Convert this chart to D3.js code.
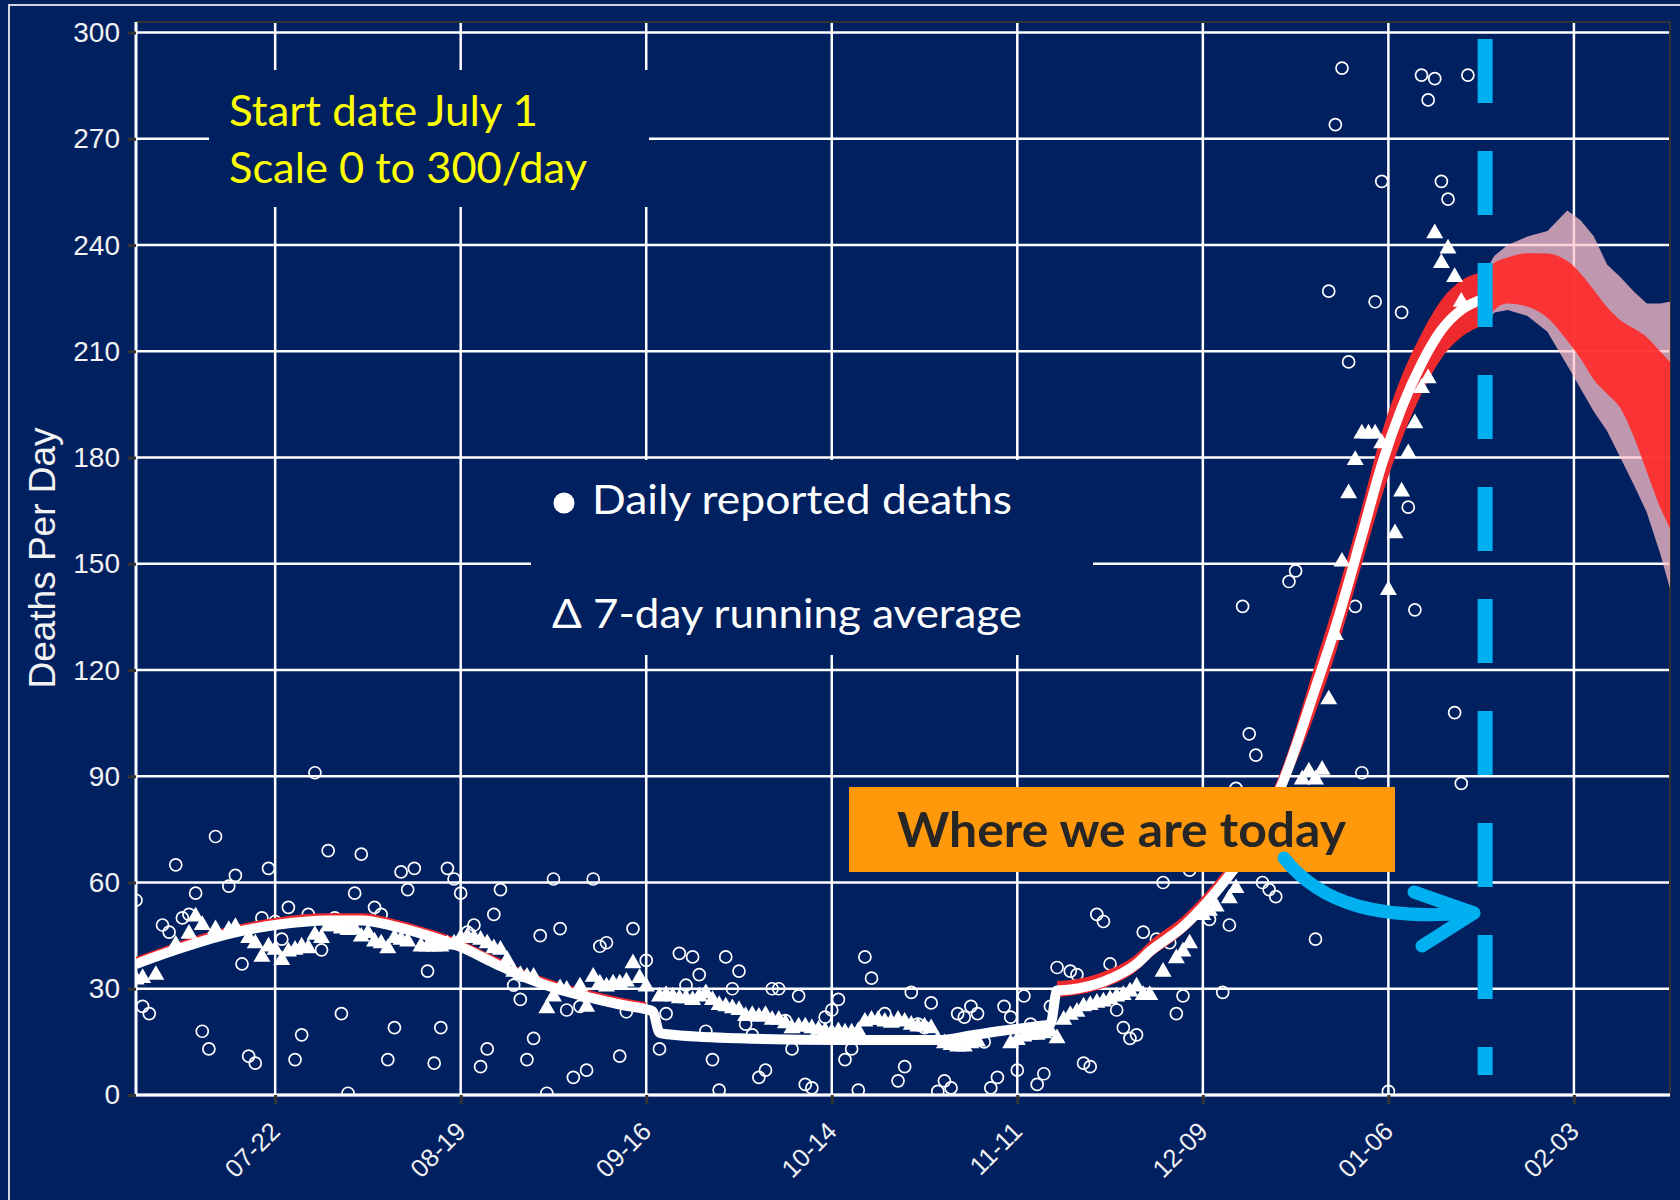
<!DOCTYPE html>
<html>
<head>
<meta charset="utf-8">
<script src="https://cdnjs.cloudflare.com/ajax/libs/d3/7.8.5/d3.min.js"></script>
<style>
  body { margin: 0; background: #002060; }
  svg { display: block; }
</style>
</head>
<body>
<script>
// Chart size
var svg_width = 1680;
var svg_height = 1200;

// Days are counted from July 1 2020
var startDate = Date.UTC(2020, 6, 1);
var endDay = 231.5;
var todayDay = 203.6;

// Axis ticks
var tickDates = ["2020-07-22", "2020-08-19", "2020-09-16", "2020-10-14", "2020-11-11", "2020-12-09", "2021-01-06", "2021-02-03"];
var yTicks = [0, 30, 60, 90, 120, 150, 180, 210, 240, 270, 300];

// Daily reported deaths (open circles)
var dailyDays = [0, 1, 2, 4, 5, 6, 7, 8, 9, 10, 11, 12, 14, 15, 16, 17, 18, 19, 20, 21, 22, 23, 24, 25, 26, 27, 28, 29, 30, 31,
  32, 33, 34, 36, 37, 38, 39, 40, 41, 42, 44, 45, 46, 47, 48, 49, 50, 51, 52, 53, 54, 55, 57, 58, 59, 60, 61, 62, 63, 64,
  65, 66, 67, 68, 69, 70, 71, 73, 74, 75, 77, 79, 80, 82, 83, 84, 85, 86, 87, 88, 89, 90, 91, 92, 93, 94, 95, 96, 97, 98,
  99, 100, 101, 102, 103, 104, 105, 106, 107, 108, 109, 110, 111, 113, 115, 116, 117, 118, 119, 120, 121, 122, 123, 124, 125, 126, 127, 128, 129, 130,
  131, 132, 133, 134, 135, 136, 137, 138, 139, 141, 142, 143, 144, 145, 146, 147, 148, 149, 150, 151, 152, 154, 155, 156,
  157, 158, 159, 162, 164, 165, 166, 167, 168, 169, 170, 171, 172, 174, 175, 178, 180, 181, 182, 183, 184, 185, 187, 188,
  189, 191, 192, 193, 194, 195, 196, 197, 198, 199, 200, 201];
var dailyDeaths = [55, 25, 23, 48, 46, 65, 50, 51, 57, 18, 13, 73, 59, 62, 37, 11, 9, 50, 64, 49, 44, 53, 10, 17, 51, 91, 41, 69, 50, 23,
  0.5, 57, 68, 53, 51, 10, 19, 63, 58, 64, 35, 9, 19, 64, 61, 57, 46, 48, 8, 13, 51, 58, 31, 27, 10, 16, 45, 0.5, 61, 47,
  24, 5, 25, 7, 61, 42, 43, 11, 23.5, 47, 38, 13, 23, 40, 31, 39, 34, 18, 10, 1.4, 39, 30, 35, 20, 17, 5, 7, 30, 30, 21,
  13, 28, 3, 2, 18, 22, 24, 27, 10, 13, 1.4, 39, 33, 23, 4, 8, 29, 20, 19, 26, 1, 4, 2, 23, 22, 25, 23, 15, 2, 5,
  25, 22, 7, 28, 20, 3, 6, 25, 36, 35, 34, 9, 8, 51, 49, 37, 24, 19, 16, 17, 46, 44, 60, 43,
  23, 28, 63.5, 49.6, 29, 48, 86.6, 138, 102, 96, 60, 58, 56, 145, 148, 44, 227, 274, 290, 207, 138, 91, 224, 258,
  1, 221, 166, 137, 288, 281, 287, 258, 253, 108, 88, 288];

// 7-day running average (filled triangles)
var avgDays = [0, 1, 3, 6, 8, 9, 10, 12, 14, 15, 17, 18, 19, 20, 21, 22, 23, 24, 25, 26, 27, 28, 29, 30, 31, 32, 33, 34, 35, 36,
  37, 38, 39, 40, 41, 43, 44, 45, 46, 47, 48, 49, 50, 51, 52, 53, 54, 55, 56, 57, 58, 59, 60, 62, 63, 64, 65, 67, 68, 69,
  70, 71, 72, 73, 74, 75, 76, 77, 79, 80, 81, 82, 83, 84, 85, 86, 87, 88, 89, 90, 91, 92, 93, 94, 95, 96, 97, 98, 99, 100,
  101, 102, 103, 104, 105, 106, 107, 108, 109, 110, 111, 112, 113, 114, 115, 116, 117, 118, 119, 120, 121, 122, 123, 124, 125, 126, 127, 132, 133, 134,
  135, 136, 137, 138, 139, 140, 141, 142, 143, 144, 145, 146, 147, 148, 149, 150, 151, 152, 153, 155, 157, 158, 159, 161,
  162, 163, 165, 166, 176, 177, 178, 179, 180, 181, 182, 183, 184, 185, 186, 187, 188, 189, 190, 191, 192, 193, 194, 195,
  196, 197, 198, 199, 200];
var avgDeaths = [32.6, 33, 33.9, 42.4, 45.5, 50.4, 48, 46.8, 46.6, 47.4, 44.3, 42.8, 39, 41.9, 41, 38.1, 40.5, 41, 41.9, 41.4, 45.2, 44.3, 47.6, 47.6, 47, 46.6, 46.8, 44.7, 45.7, 43.3,
  42.8, 41.4, 44.3, 43.8, 43.3, 41.9, 41.9, 41.9, 41.9, 42.5, 42.8, 44.3, 44.7, 44.3, 43.8, 42.8, 41.4, 41, 38.1, 34.8, 33.9, 33.4, 33.4, 24.5, 27.8, 30.1, 29.7, 30.6, 24.9, 33.4,
  31.5, 30.6, 31.5, 31.5, 32, 37.2, 33, 30.6, 27.8, 28.2, 27.8, 27.3, 27.3, 26.8, 27.8, 28.7, 26.8, 25.4, 25, 24.5, 24, 22.3, 22.6, 22.1, 22.6, 21.2, 21.2, 20.2, 18.8, 19.3,
  19.3, 18.8, 18.4, 18, 17.6, 18, 17.6, 17.6, 18, 20.7, 21.2, 21.2, 20.7, 20.4, 21.2, 20.7, 19.8, 19.3, 19.3, 18.8, 15.5, 14.6, 14.1, 13.7, 13.7, 14.6, 15.1, 14.6, 15.5, 16.5,
  17, 17, 17.4, 18, 16, 21.2, 22.6, 23.5, 25, 25.4, 26, 26.4, 27, 27.8, 28.2, 29.2, 30.6, 28.2, 28.2, 34.8, 38.6, 40.5, 42.8, 50.8,
  52, 53.2, 55.5, 58.4, 89.1, 91.3, 89.1, 91.8, 111.7, 129.9, 150.6, 169.9, 179.3, 186.8, 186.8, 186.8, 184, 142.6, 158.6, 170.4, 181.2, 189.7, 199.6, 202.4,
  243.3, 234.9, 239, 231, 224];

// Model fit (white line)
var fitDays = [0, 6, 14, 21, 29, 34, 39, 44, 49, 54, 59, 64, 69, 74, 77, 78, 79, 81, 91, 106, 121, 126, 131, 136, 138,
  139, 141, 146, 151, 153, 158, 163, 168, 173, 178, 181, 185, 188, 191, 194, 197, 200, 203.6];
var fitDeaths = [37, 41, 45.5, 48, 49.3, 49.3, 47.6, 45, 41.8, 37.3, 33, 29.7, 27.3, 25.2, 24.2, 23.6, 17.6, 17, 16, 15.5, 15.5, 16.8, 18.2, 19.4, 20,
  29.5, 29.8, 32, 37, 40.5, 47.5, 57.4, 70, 88, 115, 132, 158, 178, 194, 206.5, 216, 221.7, 225];

// Model uncertainty (red), summer part
var earlyBandDays = [0, 6, 14, 21, 29, 34, 39, 44, 49, 54, 59, 64, 69, 74, 77];
var earlyBandLow = [37, 41, 45.5, 48, 49.3, 49.3, 47.6, 45, 41.8, 37.3, 33, 29.7, 27.3, 25.2, 24.2];
var earlyBandHigh = [39, 43, 47.5, 50, 51.3, 51.3, 49.6, 47, 43.8, 39.3, 35, 31.7, 29.3, 27.2, 26.2];

// Model uncertainty (red), winter part
var lateBandDays = [139, 141, 146, 151, 153, 158, 163, 168, 173, 178, 181, 185, 188, 191, 194, 197, 200, 203.6];
var lateBandLow = [27.7, 28, 30.2, 35, 38.5, 45.5, 55.3, 67.8, 85.2, 108, 124.5, 150, 169, 185, 198, 208, 214, 217.5];
var lateBandHigh = [32.2, 32.5, 34.8, 39.8, 43.4, 50.5, 60.5, 73.4, 92.5, 122, 140, 166, 187, 203, 215, 224.5, 230, 232.5];

// Forecast bands after today
var fcDays = [203.6, 205, 207, 210, 213, 216, 218, 220, 222, 224, 226, 228, 230, 231.5];
var redLow = [217.5, 221.7, 223.5, 222.6, 219.5, 213, 208, 202, 198, 194, 186, 176, 166, 160];
var redHigh = [232.5, 235, 236.5, 237.7, 237.6, 235.5, 232, 227.3, 222.5, 218.8, 216.5, 214, 210, 207];
var pinkLow = [217.5, 221, 221.7, 220, 215.5, 206, 199.5, 193, 187.5, 180, 172.5, 164.5, 153, 143];
var pinkHigh = [232.5, 237, 240, 242.4, 244, 249.8, 247, 242.5, 234.5, 231, 227, 223.5, 223.5, 224];

function dayToDate(d) {
  return new Date(startDate + d * 864e5);
}

// Generate an SVG element on the page
var svg = d3.select("body").append("svg")
  .attr("width", svg_width)
  .attr("height", svg_height);

var x = d3.scaleUtc()
  .domain([dayToDate(0), dayToDate(endDay)])
  .range([136, 1670]);

var y = d3.scaleLinear()
  .domain([0, 303])
  .range([1095, 22]);

svg.append("rect")
  .attr("width", svg_width)
  .attr("height", svg_height)
  .attr("fill", "#002060");

// thin frame around the slide
svg.append("path")
  .attr("d", "M9,1200V5H1680")
  .attr("fill", "none")
  .attr("stroke", "#d0d4de")
  .attr("stroke-width", 2);

// Grid
var grid = svg.append("g");
grid.selectAll(".hgrid")
  .data(yTicks)
  .enter().append("line")
  .attr("x1", x.range()[0])
  .attr("x2", x.range()[1])
  .attr("y1", y)
  .attr("y2", y)
  .attr("stroke", "#ffffff")
  .attr("stroke-width", 2.5);

var parseDay = d3.utcParse("%Y-%m-%d");
var tickValues = tickDates.map(parseDay);

grid.selectAll(".vgrid")
  .data(tickValues)
  .enter().append("line")
  .attr("x1", x)
  .attr("x2", x)
  .attr("y1", y.range()[1])
  .attr("y2", y.range()[0])
  .attr("stroke", "#ffffff")
  .attr("stroke-width", 2.5);

// panel border: dark on top and right, white on left and bottom
svg.append("path")
  .attr("d", "M136," + y.range()[1] + "H1670V" + y.range()[0])
  .attr("fill", "none")
  .attr("stroke", "#333333")
  .attr("stroke-width", 2);
svg.append("path")
  .attr("d", "M136," + y.range()[1] + "V" + y.range()[0] + "H1670")
  .attr("fill", "none")
  .attr("stroke", "#ffffff")
  .attr("stroke-width", 3);

// Axes
var yAxis = svg.append("g")
  .attr("transform", "translate(136,0)")
  .call(d3.axisLeft(y).tickValues(yTicks).tickSize(8).tickPadding(8));
yAxis.select(".domain").remove();
yAxis.selectAll("line").attr("stroke", "#333333").attr("stroke-width", 3);
yAxis.selectAll("text")
  .attr("fill", "#f2f2f2")
  .attr("font-family", "'Liberation Sans', Arial, sans-serif")
  .attr("font-size", 28);

var xAxis = svg.append("g")
  .attr("transform", "translate(0,1095)")
  .call(d3.axisBottom(x).tickValues(tickValues).tickFormat(d3.utcFormat("%m-%d")).tickSize(9));
xAxis.select(".domain").remove();
xAxis.selectAll("line").attr("stroke", "#333333").attr("stroke-width", 3);
xAxis.selectAll("text")
  .attr("fill", "#f2f2f2")
  .attr("font-family", "'Liberation Sans', Arial, sans-serif")
  .attr("font-size", 25.5)
  .attr("text-anchor", "end")
  .attr("x", 0)
  .attr("y", 0)
  .attr("dy", 0)
  .attr("transform", "translate(6,38) rotate(-45)");

svg.append("text")
  .attr("transform", "translate(55,558) rotate(-90)")
  .attr("text-anchor", "middle")
  .attr("fill", "#f2f2f2")
  .attr("font-family", "'Liberation Sans', Arial, sans-serif")
  .attr("font-size", 37)
  .text("Deaths Per Day");

// Data layer, clipped to the panel
svg.append("clipPath").attr("id", "panel")
  .append("rect")
  .attr("x", 136).attr("y", 22)
  .attr("width", 1534).attr("height", 1073);

var plot = svg.append("g").attr("clip-path", "url(#panel)");

function band(days, lo, hi, curve) {
  return d3.area()
    .curve(curve)
    .x(function(d, i) { return x(dayToDate(days[i])); })
    .y0(function(d, i) { return y(lo[i]); })
    .y1(function(d, i) { return y(hi[i]); })(days);
}

// circles first, the fit goes over them
plot.selectAll(".daily")
  .data(dailyDays)
  .enter().append("circle")
  .attr("cx", function(d) { return x(dayToDate(d)); })
  .attr("cy", function(d, i) { return y(dailyDeaths[i]); })
  .attr("r", 6)
  .attr("fill", "none")
  .attr("stroke", "#ffffff")
  .attr("stroke-width", 1.7);

plot.append("path")
  .attr("d", band(fcDays, pinkLow, pinkHigh, d3.curveLinear))
  .attr("fill", "rgb(255,192,203)")
  .attr("fill-opacity", 0.75);

plot.append("path")
  .attr("d", band(fcDays, redLow, redHigh, d3.curveMonotoneX))
  .attr("fill", "#ff2a2a")
  .attr("fill-opacity", 0.92);

plot.append("path")
  .attr("d", band(earlyBandDays, earlyBandLow, earlyBandHigh, d3.curveMonotoneX))
  .attr("fill", "#ee2a2e");

plot.append("path")
  .attr("d", band(lateBandDays, lateBandLow, lateBandHigh, d3.curveMonotoneX))
  .attr("fill", "#ee2a2e");

var fitLine = d3.line()
  .curve(d3.curveMonotoneX)
  .x(function(d) { return x(dayToDate(d)); })
  .y(function(d, i) { return y(fitDeaths[i]); });

plot.append("path")
  .attr("d", fitLine(fitDays))
  .attr("fill", "none")
  .attr("stroke", "#ffffff")
  .attr("stroke-width", 10)
  .attr("stroke-linejoin", "round");

var tri = d3.symbol().type(d3.symbolTriangle).size(125);
plot.selectAll(".avg")
  .data(avgDays)
  .enter().append("path")
  .attr("d", tri)
  .attr("transform", function(d, i) {
    return "translate(" + x(dayToDate(d)) + "," + y(avgDeaths[i]) + ")";
  })
  .attr("fill", "#ffffff");

// "today" marker
svg.append("line")
  .attr("x1", x(dayToDate(todayDay)))
  .attr("x2", x(dayToDate(todayDay)))
  .attr("y1", 39)
  .attr("y2", 1075)
  .attr("stroke", "#00b0f0")
  .attr("stroke-width", 15)
  .attr("stroke-dasharray", "64,48");

// Notes are set at the cap height of the original font and squeezed to its width
var noteFont = "Lato, 'Open Sans', 'Noto Sans', sans-serif";

function note(xPos, yPos, size, width, color, txt) {
  return svg.append("text")
    .attr("x", xPos).attr("y", yPos)
    .attr("fill", color)
    .attr("font-family", noteFont)
    .attr("font-size", size)
    .attr("textLength", width)
    .attr("lengthAdjust", "spacingAndGlyphs")
    .text(txt);
}

// Start date note
svg.append("rect")
  .attr("x", 209).attr("y", 70)
  .attr("width", 440).attr("height", 137)
  .attr("fill", "#002060");
note(229, 126, 42, 309, "#ffff00", "Start date July 1");
note(229, 183, 42, 358, "#ffff00", "Scale 0 to 300/day");

// Legend
svg.append("rect")
  .attr("x", 531).attr("y", 460)
  .attr("width", 562).attr("height", 195)
  .attr("fill", "#002060");
svg.append("circle")
  .attr("cx", 564).attr("cy", 503)
  .attr("r", 10.5)
  .attr("fill", "#ffffff");
note(592, 514, 41, 420, "#ffffff", "Daily reported deaths");
note(552, 628, 41, 470, "#ffffff", "\u0394 7-day running average");

// Where we are today
svg.append("rect")
  .attr("x", 849).attr("y", 787)
  .attr("width", 546).attr("height", 85)
  .attr("fill", "#ff980a");
note(897, 847, 47, 449, "#262626", "Where we are today")
  .attr("font-weight", "bold");

// curved arrow to the today marker
svg.append("path")
  .attr("d", "M1284,858 C1322,906 1382,920 1470,913")
  .attr("fill", "none")
  .attr("stroke", "#00b0f0")
  .attr("stroke-width", 13)
  .attr("stroke-linecap", "round");
svg.append("path")
  .attr("d", "M1414,892 L1474,913 L1422,946")
  .attr("fill", "none")
  .attr("stroke", "#00b0f0")
  .attr("stroke-width", 13)
  .attr("stroke-linecap", "round")
  .attr("stroke-linejoin", "round");
</script>
</body>
</html>
